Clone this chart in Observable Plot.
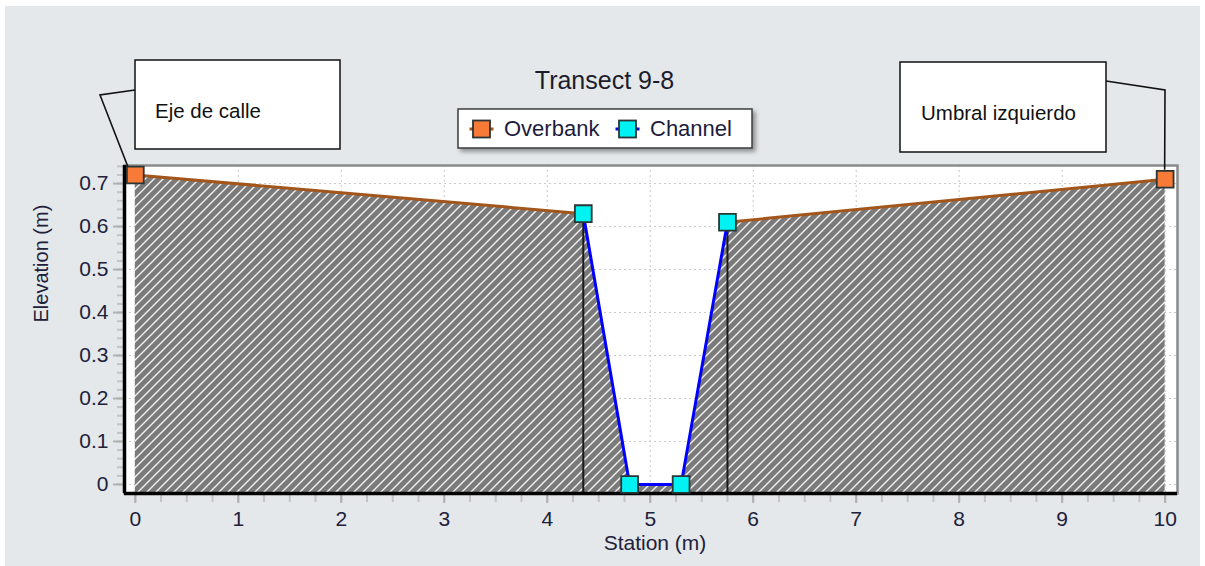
<!DOCTYPE html>
<html>
<head>
<meta charset="utf-8">
<script src="https://cdn.jsdelivr.net/npm/d3@7"></script>
<script src="https://cdn.jsdelivr.net/npm/@observablehq/plot@0.6"></script>
<style>
  html, body { margin: 0; padding: 0; background: #ffffff; }
  #wrap { position: relative; width: 1205px; height: 566px; overflow: hidden; }
  #panel { position: absolute; left: 5px; top: 6px; width: 1195px; height: 560px; background: #e4e8eb; }
  #chart { position: absolute; left: 0; top: 0; }
</style>
</head>
<body>
<div id="wrap"><div id="panel"></div><div id="chart"></div></div>
<script>
// ---- data ----
const titleText = "Transect 9-8";
const stations = [0, 4.35, 4.8, 5.3, 5.75, 10];
const elevations = [0.72, 0.63, 0, 0, 0.61, 0.71];
const pointSeries = ["Overbank", "Channel", "Channel", "Channel", "Channel", "Overbank"];
const overbankLeft = [0, 1];     // indices into stations
const overbankRight = [4, 5];
const channelIdx = [1, 2, 3, 4];
const bankIdx = [1, 4];
const seriesNames = ["Overbank", "Channel"];
const seriesFill = ["#f77a36", "#00f2f2"];
const seriesLine = ["#a3561b", "#0000ff"];
const xTicks = [0, 1, 2, 3, 4, 5, 6, 7, 8, 9, 10];
const xTickLabels = ["0", "1", "2", "3", "4", "5", "6", "7", "8", "9", "10"];
const yTicks = [0, 0.1, 0.2, 0.3, 0.4, 0.5, 0.6, 0.7];
const yTickLabels = ["0", "0.1", "0.2", "0.3", "0.4", "0.5", "0.6", "0.7"];
const xMinorTicks = d3.range(0, 41).map(i => i / 4);
const yMinorTicks = d3.range(0, 38).map(i => i / 50);
const xLabel = "Station (m)";
const yLabel = "Elevation (m)";
const annotations = [
  {text: "Eje de calle", idx: 0},
  {text: "Umbral izquierdo", idx: 5}
];

// ---- derived tables ----
const pts = stations.map((s, i) => ({station: s, elevation: elevations[i], series: pointSeries[i]}));
const overbankSegs = [
  ...overbankLeft.map(i => ({...pts[i], seg: "L"})),
  ...overbankRight.map(i => ({...pts[i], seg: "R"}))
];
const channelPts = channelIdx.map(i => pts[i]);
const bankPts = bankIdx.map(i => pts[i]);
const xDomain = [-0.105, 10.12];
const yDomain = [-0.021, 0.742];
const fillOf = s => seriesFill[seriesNames.indexOf(s)];
const FONT = "'Liberation Sans', Arial, sans-serif";

const chart = Plot.plot({
  width: 1205,
  height: 566,
  marginLeft: 124,
  marginRight: 28,
  marginTop: 165,
  marginBottom: 73,
  style: {background: "transparent", fontFamily: FONT, overflow: "visible"},
  x: {domain: xDomain},
  y: {domain: yDomain},
  marks: [
    Plot.frame({fill: "white", stroke: null}),
    Plot.gridX(xTicks, {stroke: "#c9c9c9", strokeOpacity: 1, strokeDasharray: "2,3"}),
    Plot.gridY(yTicks, {stroke: "#c9c9c9", strokeOpacity: 1, strokeDasharray: "2,3"}),
    Plot.areaY(pts, {x: "station", y1: yDomain[0], y2: "elevation", fill: "url(#hatch)", curve: "linear"}),
    Plot.ruleX(bankPts, {x: "station", y1: yDomain[0], y2: "elevation", stroke: "#1a1a1a", strokeWidth: 2}),
    Plot.line(overbankSegs, {x: "station", y: "elevation", z: "seg", stroke: seriesLine[0], strokeWidth: 3}),
    Plot.line(channelPts, {x: "station", y: "elevation", stroke: seriesLine[1], strokeWidth: 3}),
    Plot.frame({stroke: "#8a8a8a", strokeWidth: 2.5}),
    Plot.axisX(xMinorTicks, {tickSize: 9, tickFormat: () => "", stroke: "#c4c4c4", color: "#c4c4c4", strokeWidth: 2, strokeOpacity: 1, label: null, className: "minor-tick"}),
    Plot.axisY(yMinorTicks, {tickSize: 7, tickFormat: () => "", stroke: "#c4c4c4", color: "#c4c4c4", strokeWidth: 2, strokeOpacity: 1, label: null, className: "minor-tick"}),
    Plot.axisX(xTicks, {tickSize: 10, tickPadding: 8, fontSize: 21, stroke: "#acacac", strokeWidth: 2, strokeOpacity: 1, fill: "#20203a",
      tickFormat: d => xTickLabels[xTicks.indexOf(d)], label: null}),
    Plot.axisY(yTicks, {tickSize: 11, tickPadding: 5, fontSize: 21, stroke: "#acacac", strokeWidth: 2, strokeOpacity: 1, fill: "#20203a",
      tickFormat: d => yTickLabels[yTicks.indexOf(d)], label: null}),
    Plot.ruleX([xDomain[0]], {stroke: "#000", strokeWidth: 3.5}),
    Plot.ruleY([yDomain[0]], {stroke: "#000", strokeWidth: 3.5, x1: xDomain[0], x2: xDomain[1]}),
    Plot.dot(pts, {x: "station", y: "elevation", symbol: "square", r: 9.5,
      fill: d => fillOf(d.series), stroke: "#2b3535", strokeWidth: 1.8}),
    Plot.text([yLabel], {frameAnchor: "left", dx: -83, dy: -7, rotate: -90, fontSize: 20, fill: "#20203a"}),
    Plot.text([xLabel], {frameAnchor: "bottom", dx: 4, dy: 56, fontSize: 21, fill: "#20203a"})
  ]
});
document.getElementById("chart").appendChild(chart);

// force tick colours (in case the axis ignores the stroke option)
d3.select(chart).selectAll("[aria-label='x-axis tick'], [aria-label='y-axis tick']").attr("stroke", "#b0b0b0");
d3.select(chart).selectAll(".minor-tick").attr("stroke", "#c4c4c4");

// ---- hatch pattern, title, legend, annotations ----
const svg = d3.select(chart);
const defs = svg.insert("defs", ":first-child");
const pat = defs.append("pattern").attr("id", "hatch").attr("patternUnits", "userSpaceOnUse")
  .attr("width", 9).attr("height", 9);
pat.append("rect").attr("width", 9).attr("height", 9).attr("fill", "#7a7a7a");
pat.append("path").attr("d", "M-2,2 L2,-2 M0,9 L9,0 M7,11 L11,7")
  .attr("stroke", "#f2f2f2").attr("stroke-width", 1.4);
const shadow = defs.append("filter").attr("id", "shadow").attr("x", "-10%").attr("y", "-20%").attr("width", "130%").attr("height", "160%");
shadow.append("feDropShadow").attr("dx", 3).attr("dy", 3).attr("stdDeviation", 2).attr("flood-color", "#555").attr("flood-opacity", 0.6);

const xs = chart.scale("x"), ys = chart.scale("y");

svg.append("text").attr("x", 604.5).attr("y", 89).attr("text-anchor", "middle")
  .style("font-family", FONT).style("font-size", "25px").attr("fill", "#1c1c2c").text(titleText);

// legend
const lg = svg.append("g");
lg.append("rect").attr("x", 458).attr("y", 109).attr("width", 294).attr("height", 39)
  .attr("fill", "white").attr("stroke", "#3c3c3c").attr("stroke-width", 1.5).attr("filter", "url(#shadow)");
const legendX = [481.5, 627.5];
seriesNames.forEach((name, i) => {
  const cx = legendX[i];
  lg.append("line").attr("x1", cx - 12).attr("x2", cx + 12).attr("y1", 129).attr("y2", 129)
    .attr("stroke", seriesLine[i]).attr("stroke-width", 3);
  lg.append("rect").attr("x", cx - 8.5).attr("y", 120.5).attr("width", 17).attr("height", 17)
    .attr("fill", seriesFill[i]).attr("stroke", "#2b3535").attr("stroke-width", 1.8);
  lg.append("text").attr("x", cx + 22.5).attr("y", 136).attr("text-anchor", "start")
    .style("font-family", FONT).style("font-size", "22px")
    .attr("fill", "#1c1c3c").text(name);
});

// annotation boxes
const boxes = [
  {x: 135, y: 60, w: 205, h: 89, tx: 155, ty: 118, anchor: [135, 90], elbow: [100, 95], off: [-7, -8]},
  {x: 900, y: 62, w: 206, h: 90, tx: 921, ty: 120, anchor: [1106, 81], elbow: [1165, 90], off: [0, -9]}
];
annotations.forEach((a, i) => {
  const b = boxes[i];
  const p = pts[a.idx];
  const px = xs.apply(p.station) + b.off[0], py = ys.apply(p.elevation) + b.off[1];
  svg.append("path").attr("d", `M${b.anchor[0]},${b.anchor[1]}L${b.elbow[0]},${b.elbow[1]}L${px},${py}`)
    .attr("fill", "none").attr("stroke", "#111").attr("stroke-width", 1.6);
  svg.append("rect").attr("x", b.x).attr("y", b.y).attr("width", b.w).attr("height", b.h)
    .attr("fill", "white").attr("stroke", "#111").attr("stroke-width", 1.5);
  svg.append("text").attr("x", b.tx).attr("y", b.ty).attr("text-anchor", "start")
    .style("font-family", FONT).style("font-size", "20.5px")
    .attr("fill", "#111").text(a.text);
});
</script>
</body>
</html>
